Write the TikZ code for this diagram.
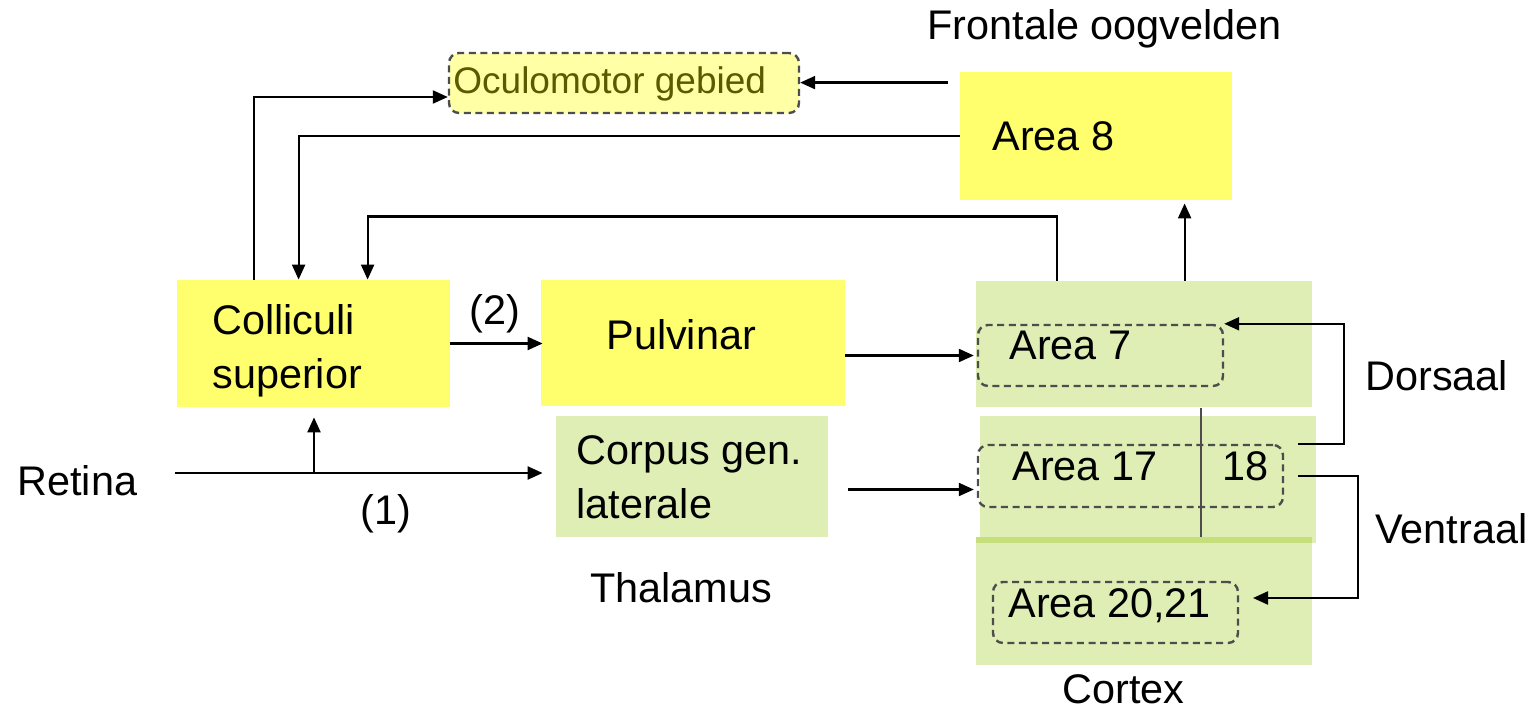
\documentclass[tikz,border=0pt]{standalone}
\usepackage{fontspec}
\setmainfont{Liberation Sans}
\usetikzlibrary{arrows.meta,fit,calc}
\definecolor{yel}{HTML}{FFFF6E}
\definecolor{paleyel}{HTML}{FFFFA6}
\definecolor{grn}{HTML}{DEEEB4}
\definecolor{dgrn}{HTML}{C6DF7C}
\definecolor{dashgray}{HTML}{4D4D4D}
\definecolor{olive}{HTML}{5A5A00}
\tikzset{
  ybox/.style={fill=yel,draw=none,inner sep=0pt},
  gbox/.style={fill=grn,draw=none,inner sep=0pt},
  dbox/.style={draw=dashgray,line width=1.2pt,dash pattern=on 3.5pt off 2.3pt,rounded corners=5pt,inner sep=0pt},
  txt/.style={anchor=base west,inner sep=0pt,font=\fontsize{20.7}{24}\selectfont},
  arr/.style={draw=black,line width=1.1pt,-{Triangle[length=7.5pt,width=6.5pt]}},
}
\begin{document}
\begin{tikzpicture}[x=0.5pt,y=-0.5pt]
\useasboundingbox (0,0) rectangle (1537,711);
% cortex green boxes
\node[gbox,fit={(976,281) (1312,407)}] (ctop) {};
\node[gbox,fit={(980,416) (1316,543)}] (cmid) {};
\node[gbox,fit={(976,537) (1312,665)}] (cbot) {};
\fill[dgrn] (976,537) rectangle (1312,543);
\draw[dashgray,line width=0.6pt] (1201,408) -- (1201,537);
% boxes
\node[ybox,fit={(960,72) (1232,200)}] (a8) {};
\node[ybox,fit={(177,280) (450,407)}] (cs) {};
\node[ybox,fit={(541,280) (845,406)}] (pul) {};
\node[gbox,fit={(556,416) (828,537)}] (cgl) {};
\node[dbox,fill=paleyel,fit={(449,53) (799,113)}] (ocu) {};
\node[dbox,fit={(978,325) (1223,386)}] (a7) {};
\node[dbox,fit={(978,445) (1283,507)}] (a17) {};
\node[dbox,fit={(993,582) (1238,643)}] (a20) {};
% texts
\node[txt,font=\fontsize{18.5}{22}\selectfont,text=olive] (tocu) at (453,94) {Oculomotor gebied};
\node[txt] (tfo) at (927,40) {Frontale oogvelden};
\node[txt] (ta8) at (992,151) {Area 8};
\node[txt] (tcs1) at (212,335) {Colliculi};
\node[txt] (tcs2) at (212,388) {superior};
\node[txt] (tpul) at (606,350) {Pulvinar};
\node[txt] (tcg1) at (576,464) {Corpus gen.};
\node[txt] (tcg2) at (576,518) {laterale};
\node[txt] (tthal) at (590,602) {Thalamus};
\node[txt] (tret) at (17,495) {Retina};
\node[txt] (t1) at (360,524) {(1)};
\node[txt] (t2) at (469,325) {(2)};
\node[txt] (ta7) at (1009,359) {Area 7};
\node[txt] (ta17) at (1012,480) {Area 17};
\node[txt] (t18) at (1222,480) {18};
\node[txt] (ta20) at (1008,617) {Area 20,21};
\node[txt] (tcor) at (1062,703) {Cortex};
\node[txt] (tdor) at (1365,390) {Dorsaal};
\node[txt] (tven) at (1375,543) {Ventraal};
% connectors
\coordinate (rs) at (175,473);
\coordinate (br) at (314,473);
\draw[arr,shorten >=6.5pt] (rs) -- (rs -| cgl.west);
\draw[arr,shorten >=5pt] (br) -- (br |- cs.south);
\draw[arr,shorten >=-1pt] (cs.east) -- (cs.east -| pul.west);
\draw[arr,shorten >=1.5pt] (pul.east |- a7.west) -- (a7.west);
\coordinate (cg) at ($(cgl.east)+(10pt,-6.5pt)$);
\draw[arr,shorten >=1.5pt] (cg) -- (cg -| a17.west);
\draw[arr] ([xshift=38.5pt]cs.north west) |- ([yshift=-7pt]ocu.west);
\coordinate (a8o) at ($(a8.north west)+(-6pt,-5.5pt)$);
\draw[arr] (a8o) -- (a8o -| ocu.east);
\draw[arr] (a8.west) -| ([xshift=61pt]cs.north west);
\draw[arr] ([xshift=40.5pt]ctop.north west) -- ++(0,-64) -| ([xshift=95.5pt]cs.north west);
\draw[arr,shorten >=1.5pt] ([xshift=104.5pt]ctop.north west) -- ([xshift=104.5pt]ctop.north west |- a8.south);
\draw[arr] ([xshift=7pt]a17.north east) -- ++(46,0) |- (a7.north east);
\coordinate (ve) at (1253,598);
\draw[arr] ([xshift=7pt]a17.east) -- ++(60,0) |- (ve);
\end{tikzpicture}
\end{document}
